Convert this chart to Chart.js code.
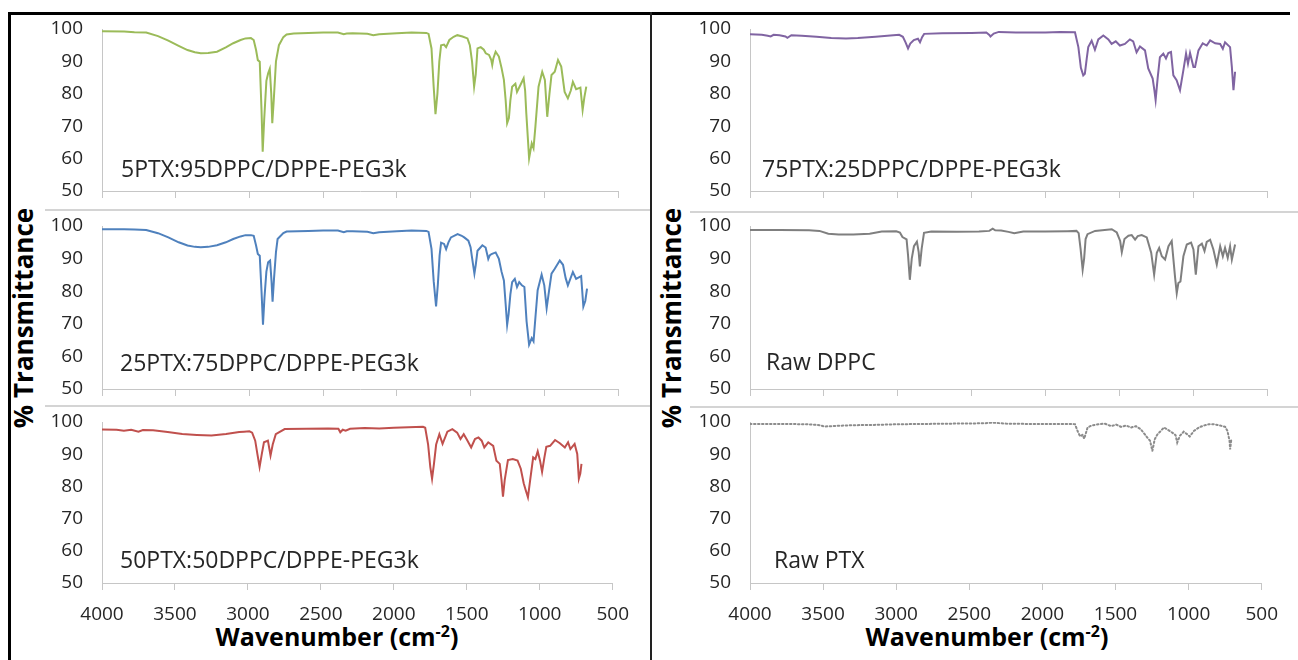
<!DOCTYPE html>
<html>
<head>
<meta charset="utf-8">
<script src="https://cdn.jsdelivr.net/npm/chart.js@4.4.0/dist/chart.umd.min.js"></script>
<style>
  body { margin: 0; background: #fff; width: 1298px; height: 660px; overflow: hidden; position: relative; font-family: 'Open Sans', sans-serif; }
  canvas { position: absolute; }
  .bar { position: absolute; background: #000; }
  .sep { position: absolute; height: 2px; background: #d4d4d4; }
  .lbl { position: absolute; font-size: 23px; line-height: 1; color: #262626; white-space: nowrap; }
  .ytitle { position: absolute; font-weight: bold; font-size: 26px; line-height: 1; white-space: nowrap; color: #000;
            transform: translate(-50%, -50%) rotate(-90deg); }
  .xtitle { position: absolute; font-weight: bold; font-size: 25px; line-height: 1; white-space: nowrap; color: #000;
            transform: translate(-50%, -50%); }
  .xtitle sup { font-size: 16px; vertical-align: 9px; line-height: 0; }
</style>
</head>
<body>
<div class="bar" style="left:8px;top:12px;width:1282px;height:3px"></div>
<div class="bar" style="left:8px;top:12px;width:3px;height:648px"></div>
<div class="bar" style="left:650px;top:12px;width:2px;height:648px;background:#222"></div>
<div class="sep" style="left:45px;top:209px;width:605px"></div>
<div class="sep" style="left:45px;top:405px;width:605px"></div>
<div class="sep" style="left:690px;top:211px;width:608px"></div>
<div class="sep" style="left:690px;top:406px;width:608px"></div>
<div class="ytitle" style="left:23px;top:318px">% Transmittance</div>
<div class="ytitle" style="left:671px;top:318px">% Transmittance</div>
<div class="xtitle" style="left:337px;top:636px">Wavenumber (cm<sup>-2</sup>)</div>
<div class="xtitle" style="left:987px;top:636px">Wavenumber (cm<sup>-2</sup>)</div>

<script>
// FTIR spectra, [wavenumber cm-1, % transmittance]
const s5PTX = [[4000,99.3],[3850,99.2],[3780,99.0],[3700,98.9],[3620,97.8],[3550,96.4],[3480,94.8],[3420,93.5],[3370,92.8],[3330,92.5],[3280,92.6],[3220,93.0],[3160,94.3],[3110,95.6],[3060,96.6],[3027,97.1],[2990,97.2],[2971,96.6],[2955,93.5],[2943,90.4],[2930,89.9],[2918,75],[2910,62.1],[2900,72],[2885,84],[2873,86.3],[2862,87.7],[2852,80],[2845,70.9],[2835,78],[2820,90],[2800,95],[2770,97.5],[2748,98.3],[2700,98.6],[2600,98.8],[2500,98.9],[2400,98.9],[2360,98.4],[2340,98.6],[2300,98.7],[2200,98.5],[2160,98.1],[2120,98.4],[2000,98.7],[1900,98.9],[1800,98.8],[1785,98.5],[1765,94],[1750,82],[1738,73.7],[1725,80],[1712,90],[1700,95],[1680,95.2],[1666,94.4],[1644,96.6],[1615,97.6],[1590,98.1],[1555,97.7],[1521,97.1],[1505,95],[1490,90],[1476,82.2],[1465,86],[1453,94],[1431,94.4],[1410,93.6],[1397,92.5],[1375,92],[1360,90.5],[1353,88.9],[1345,91],[1330,93],[1308,91.5],[1290,88],[1274,84.3],[1262,78],[1252,70.9],[1240,72.5],[1230,78],[1218,82.2],[1196,83.1],[1185,80.6],[1162,82.7],[1140,84.8],[1130,81],[1122,74],[1103,60.1],[1085,64.7],[1073,63.2],[1060,70],[1039,82.2],[1014,86.8],[996,84.3],[980,72.9],[965,80],[951,85.8],[929,86.8],[907,90.4],[885,88.4],[862,80.6],[840,78.6],[820,81],[806,83.7],[784,81.4],[755,81.9],[740,75],[728,79],[715,82.2]];

const s25PTX = [[4000,99.0],[3850,99.0],[3780,98.9],[3700,98.8],[3620,97.8],[3550,96.5],[3480,95],[3420,94],[3370,93.6],[3330,93.5],[3280,93.6],[3220,94.1],[3160,95],[3110,96],[3060,96.8],[3027,97.2],[2990,97.2],[2971,97],[2955,94],[2943,91.4],[2930,90.9],[2918,80],[2908,69.7],[2898,78],[2885,86],[2873,88.9],[2860,89.4],[2850,83],[2843,76.8],[2833,84],[2820,92],[2809,96],[2770,97.8],[2748,98.3],[2600,98.5],[2500,98.6],[2400,98.6],[2360,98.1],[2340,98.4],[2300,98.4],[2200,98.2],[2160,97.8],[2120,98.1],[2000,98.4],[1900,98.6],[1800,98.5],[1785,98.2],[1765,93],[1750,83],[1734,75.3],[1722,82],[1710,91],[1700,94.9],[1680,94.5],[1666,92.9],[1650,95],[1633,96.5],[1588,97.5],[1560,97],[1543,96.5],[1515,95.5],[1500,93.5],[1492,90.9],[1474,85.4],[1465,88],[1453,92.4],[1420,94.1],[1398,93.4],[1380,89.9],[1370,91],[1358,91.4],[1330,91.9],[1308,89.9],[1290,86],[1274,83.3],[1262,76],[1252,69.7],[1242,73],[1230,79],[1218,82.8],[1200,83.8],[1185,81.3],[1170,82.8],[1152,81.8],[1135,81.3],[1120,70.7],[1103,63.6],[1085,65.6],[1073,64.6],[1060,72],[1045,80.3],[1018,85.1],[1000,81.8],[984,74.8],[968,80],[951,85.4],[929,86.9],[895,89.4],[873,88.1],[855,84],[840,81.8],[806,85.9],[784,83.8],[750,84.6],[735,75.3],[722,77],[710,80.8]];

const s50PTX = [[4000,97.7],[3900,97.6],[3850,97.3],[3800,97.6],[3750,97.0],[3720,97.5],[3650,97.4],[3550,96.9],[3450,96.3],[3350,96.0],[3250,95.8],[3150,96.3],[3060,96.9],[3027,97.0],[2990,97.1],[2971,96.7],[2950,94.2],[2935,90],[2920,86.0],[2905,90],[2890,93.7],[2863,94.2],[2845,89.6],[2830,93],[2809,96.2],[2748,97.8],[2600,97.9],[2450,98],[2380,97.9],[2367,96.8],[2350,97.6],[2330,97.3],[2300,97.9],[2200,98.1],[2100,98],[2000,98.2],[1900,98.4],[1800,98.5],[1785,98.2],[1765,93],[1750,86],[1738,82.4],[1725,87],[1710,93],[1688,96.2],[1666,93.2],[1633,97],[1599,97.8],[1566,96.7],[1543,94.7],[1521,96.2],[1498,94.4],[1470,92.1],[1444,94.7],[1420,95.2],[1398,94.2],[1380,92.1],[1353,93.7],[1319,92.6],[1297,88],[1274,87],[1262,82],[1252,76.8],[1240,82],[1218,88.2],[1185,88.5],[1152,88],[1130,85.5],[1110,81],[1096,78.8],[1081,76.6],[1063,82.9],[1045,89],[1030,88.5],[1014,90.9],[998,88],[984,84.5],[968,89],[955,92.3],[929,92.6],[895,94.4],[862,93.4],[828,92.1],[806,93.7],[790,91.6],[761,93.2],[743,90.1],[732,82.4],[722,84],[714,87]];

const s75PTX = [[4000,98.4],[3920,98.2],[3880,97.9],[3860,97.7],[3840,98.2],[3800,98.1],[3760,97.7],[3747,97.3],[3720,98.1],[3650,97.9],[3550,97.6],[3450,97.2],[3350,97.1],[3270,97.2],[3150,97.6],[3050,98],[2990,98.2],[2965,97.6],[2947,95.9],[2930,94.0],[2915,95.5],[2891,96.6],[2863,97],[2849,95.9],[2835,97.5],[2821,98.5],[2700,98.7],[2500,98.8],[2400,98.9],[2380,98.2],[2372,97.7],[2350,98.6],[2316,99.1],[2200,98.9],[2100,98.9],[2000,98.9],[1900,99.1],[1800,99.0],[1777,94.4],[1760,88],[1744,85.7],[1733,86.2],[1720,91],[1710,94.4],[1687,96.4],[1665,93.6],[1642,96.8],[1608,98],[1574,96.8],[1552,95.4],[1524,96.2],[1496,94.9],[1462,95.4],[1428,96.8],[1406,96.2],[1383,92.8],[1360,94.6],[1326,93.4],[1304,87.8],[1274,84.7],[1262,81],[1254,78.1],[1240,85],[1225,91.3],[1202,92.4],[1184,90.9],[1168,92.6],[1150,92.9],[1134,85.7],[1112,84.2],[1089,81.1],[1066,87.3],[1048,92.4],[1035,89.3],[1021,92.6],[998,88.3],[987,88.3],[964,93.4],[935,95.6],[908,94.9],[885,96.5],[851,95.6],[817,95.4],[799,93.9],[784,95.9],[750,94.4],[738,88.3],[727,81.1],[716,86.8]];

const sDPPC = [[4000,98.8],[3800,98.8],[3600,98.7],[3530,98.5],[3470,97.6],[3400,97.4],[3300,97.4],[3190,97.6],[3108,98.3],[3010,98.4],[2985,98.0],[2968,96.6],[2940,95.9],[2930,91],[2918,83.5],[2905,90],[2890,93.8],[2870,95.2],[2858,92],[2850,87.6],[2838,93],[2822,97.9],[2772,98.3],[2600,98.2],[2450,98.3],[2380,98.5],[2357,99.2],[2340,98.7],[2300,98.6],[2250,98.2],[2211,97.8],[2150,98.3],[2000,98.3],[1850,98.4],[1790,98.5],[1775,97.8],[1762,93],[1748,86.6],[1738,90],[1728,96],[1715,97.5],[1664,98.5],[1551,99.0],[1517,98],[1494,95.4],[1483,92],[1465,96],[1438,97],[1416,97.2],[1393,95.8],[1375,96.9],[1348,97.2],[1314,96.5],[1284,91.8],[1264,85.1],[1246,91.8],[1230,93.3],[1212,90.7],[1190,89.7],[1167,93.8],[1145,95.4],[1122,84.1],[1111,79.4],[1100,82.5],[1086,83],[1066,90.7],[1043,94.3],[1014,94.9],[998,92.8],[982,85.1],[964,93.8],[941,94.6],[923,92.3],[908,95.1],[885,95.8],[863,92.8],[840,88.2],[817,93.8],[799,90.7],[784,93.3],[766,90.2],[750,93.8],[738,89.7],[716,94.3]];

const sPTX = [[4000,99.4],[3800,99.4],[3600,99.3],[3520,99],[3494,98.6],[3410,98.8],[3300,99.0],[3150,99.1],[2988,99.3],[2800,99.4],[2600,99.5],[2400,99.6],[2341,99.8],[2250,99.5],[2100,99.4],[1950,99.4],[1800,99.4],[1777,99.3],[1755,96.7],[1741,95.5],[1725,96.1],[1714,94.8],[1691,98.3],[1664,98.9],[1619,99.3],[1574,99.5],[1529,98.7],[1496,99.2],[1462,98.5],[1428,98.9],[1394,98.3],[1360,98.7],[1326,97.7],[1292,95.7],[1263,94.1],[1248,91],[1232,94.6],[1214,96.1],[1191,97.2],[1168,98.3],[1146,97.7],[1112,96.7],[1089,95.9],[1078,93.6],[1060,95.7],[1033,97],[1010,96.2],[992,95.5],[964,97.2],[930,98.3],[896,98.9],[862,99.3],[829,99.3],[784,98.9],[750,98.5],[734,97.2],[720,94.1],[716,91.5],[708,94.6]];

const panelLabels = ['5PTX:95DPPC/DPPE-PEG3k', '25PTX:75DPPC/DPPE-PEG3k', '50PTX:50DPPC/DPPE-PEG3k',
                     '75PTX:25DPPC/DPPE-PEG3k', 'Raw DPPC', 'Raw PTX'];
const yTicks = [50, 60, 70, 80, 90, 100];
const xTicks = [4000, 3500, 3000, 2500, 2000, 1500, 1000, 500];

// plot-area boxes (px) for the two columns and three rows
const cols = [{ L: 102, R: 618 }, { L: 750, R: 1267 }];
const rows = [{ T: 29, B: 191 }, { T: 226, B: 389 }, { T: 422, B: 583 }];
const labelPos = [[121, 157], [120, 351], [120, 548], [762, 157], [766, 350], [774, 548]];

const panels = [
    { data: s5PTX, color: '#9BBB59', col: 0, row: 0 },
    { data: s25PTX, color: '#4F81BD', col: 0, row: 1 },
    { data: s50PTX, color: '#C0504D', col: 0, row: 2 },
    { data: s75PTX, color: '#8064A2', col: 1, row: 0 },
    { data: sDPPC, color: '#7F7F7F', col: 1, row: 1 },
    { data: sPTX, color: '#8C8C8C', col: 1, row: 2, dotted: true }
];

// y tick padding also pads the scale top/bottom, so leave room for it
const YW = 70, PADT = 34, PADR = 24;

panels.forEach(function (p, i) {
    const c = cols[p.col], r = rows[p.row];
    const bottomRow = p.row === 2;
    const xh = bottomRow ? 48 : 34;
    const cv = document.createElement('canvas');
    cv.width = YW + (c.R - c.L) + PADR;
    cv.height = PADT + (r.B - r.T) + xh;
    cv.style.left = (c.L - YW) + 'px';
    cv.style.top = (r.T - PADT) + 'px';
    document.body.appendChild(cv);

    new Chart(cv, {
        type: 'line',
        data: {
            datasets: [{
                data: p.data.map(d => ({ x: d[0], y: d[1] })),
                borderColor: p.color,
                borderWidth: 2,
                borderDash: p.dotted ? [1.5, 2.5] : [],
                borderCapStyle: p.dotted ? 'round' : 'butt',
                pointRadius: 0,
                tension: 0,
                fill: false
            }]
        },
        options: {
            responsive: false,
            animation: false,
            devicePixelRatio: 1,
            layout: { padding: { top: PADT, right: PADR, left: 0, bottom: 0 } },
            plugins: { legend: { display: false }, tooltip: { enabled: false } },
            scales: {
                x: {
                    type: 'linear', reverse: true, min: 500, max: 4000,
                    afterBuildTicks: s => { s.ticks = xTicks.map(v => ({ value: v })); },
                    afterFit: s => { s.height = xh; },
                    grid: { drawOnChartArea: false, drawTicks: true, tickLength: 7, color: '#c6c6c6' },
                    border: { display: true, color: '#c6c6c6', width: 1 },
                    ticks: {
                        display: bottomRow, padding: 13, color: '#262626',
                        font: { family: 'Open Sans', size: 19 },
                        maxRotation: 0, autoSkip: false,
                        callback: v => String(v)
                    }
                },
                y: {
                    min: 50, max: 100,
                    afterBuildTicks: s => { s.ticks = yTicks.map(v => ({ value: v })); },
                    afterFit: s => { s.width = YW; },
                    grid: { display: false, drawTicks: false },
                    border: { display: true, color: '#c6c6c6', width: 1 },
                    ticks: {
                        padding: 19, color: '#262626',
                        font: { family: 'Open Sans', size: 19 },
                        callback: v => String(v)
                    }
                }
            }
        }
    });

    const lb = document.createElement('div');
    lb.className = 'lbl';
    lb.textContent = panelLabels[i];
    lb.style.left = labelPos[i][0] + 'px';
    lb.style.top = labelPos[i][1] + 'px';
    document.body.appendChild(lb);
});
</script>
</body>
</html>
